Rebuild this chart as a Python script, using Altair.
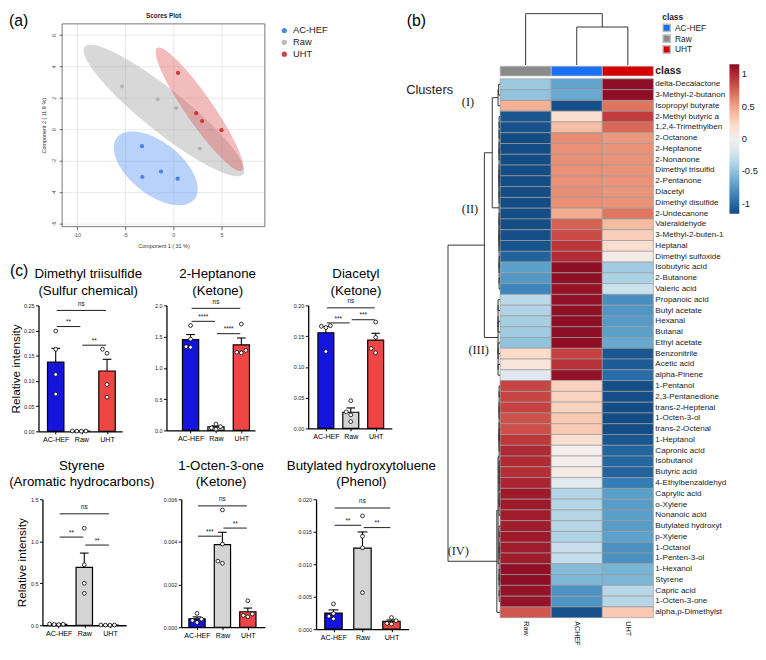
import numpy as np
import pandas as pd
import altair as alt

FONT = "Liberation Sans"
SERIF = "Liberation Serif"

# ---------------- (a) Scores plot ----------------
pca_group = ["AC-HEF"] * 4 + ["Raw"] * 4 + ["UHT"] * 4
pca_comp1 = [-3.23, -3.20, -1.26, 0.47, -5.30, -1.60, 0.31, 2.76, 0.50, 2.38, 2.99, 5.00]
pca_comp2 = [-1.08, -3.04, -2.69, -3.15, 2.73, 1.90, 1.35, -1.23, 3.58, 1.02, 0.52, -0.06]
pca_groups = ["AC-HEF", "Raw", "UHT"]

# ---------------- (b) heatmap (row z-scores) ----------------
hm_compounds = [
    "delta-Decalactone", "3-Methyl-2-butanon", "Isopropyl butyrate", "2-Methyl butyric a",
    "1,2,4-Trimethylben", "2-Octanone", "2-Heptanone", "2-Nonanone", "Dimethyl trisulfid",
    "2-Pentanone", "Diacetyl", "Dimethyl disulfide", "2-Undecanone", "Valeraldehyde",
    "3-Methyl-2-buten-1", "Heptanal", "Dimethyl sulfoxide", "Isobutyric acid", "2-Butanone",
    "Valeric acid", "Propanoic acid", "Butyl acetate", "Hexanal", "Butanal", "Ethyl acetate",
    "Benzonitrile", "Acetic acid", "alpha-Pinene", "1-Pentanol", "2,3-Pentanedione",
    "trans-2-Heptenal", "1-Octen-3-ol", "trans-2-Octenal", "1-Heptanol", "Capronic acid",
    "Isobutanol", "Butyric acid", "4-Ethylbenzaldehyd", "Caprylic acid", "o-Xylene",
    "Nonanoic acid", "Butylated hydroxyt", "p-Xylene", "1-Octanol", "1-Penten-3-ol",
    "1-Hexanol", "Styrene", "Capric acid", "1-Octen-3-one", "alpha,p-Dimethylst",
]
hm_raw = [-0.47, -0.50, 0.45, -1.10, -1.12, -1.15, -1.15, -1.15, -1.15, -1.15,
          -1.15, -1.15, -1.15, -1.15, -1.14, -1.12, -1.03, -0.70, -0.74, -0.86,
          -0.33, -0.38, -0.42, -0.45, -0.50, 0.22, 0.12, -0.14, 0.87, 0.87,
          0.88, 0.82, 0.83, 0.92, 1.00, 0.99, 0.97, 1.02, 1.08, 1.08,
          1.07, 1.07, 1.08, 1.07, 1.07, 1.14, 1.15, 1.12, 1.12, 0.80]
hm_achef = [-0.68, -0.65, -1.14, 0.20, 0.38, 0.60, 0.58, 0.58, 0.58, 0.58,
            0.59, 0.58, 0.47, 0.76, 0.85, 0.93, 0.98, 1.15, 1.14, 1.12,
            1.13, 1.14, 1.15, 1.15, 1.15, 0.88, 0.95, 1.12, 0.27, 0.27,
            0.27, 0.33, 0.32, 0.18, 0.02, 0.02, 0.06, -0.12, -0.37, -0.36,
            -0.36, -0.35, -0.38, -0.28, -0.28, -0.55, -0.57, -0.78, -0.77, -1.13]
hm_uht = [1.15, 1.15, 0.69, 0.90, 0.74, 0.55, 0.57, 0.57, 0.57, 0.57,
          0.56, 0.57, 0.68, 0.39, 0.29, 0.19, 0.05, -0.45, -0.40, -0.26,
          -0.80, -0.76, -0.73, -0.70, -0.65, -1.10, -1.07, -0.98, -1.14, -1.14,
          -1.15, -1.15, -1.15, -1.10, -1.02, -1.01, -1.03, -0.90, -0.71, -0.72,
          -0.71, -0.72, -0.70, -0.79, -0.79, -0.59, -0.58, -0.35, -0.35, 0.33]
hm_columns = ["Raw", "ACHEF", "UHT"]
hm_classes = ["Raw", "AC-HEF", "UHT"]
class_legend = ["AC-HEF", "Raw", "UHT"]
cluster_labels = ["(I)", "(II)", "(III)", "(IV)"]

# ---------------- (c) bar panels (4 replicates per group) ----------------
groups = ["AC-HEF", "Raw", "UHT"]
dmts_achef = [0.199, 0.163, 0.113, 0.074]
dmts_raw = [0.0005, 0.0008, 0.0003, 0.0006]
dmts_uht = [0.163, 0.155, 0.093, 0.068]
hep_achef = [1.678, 1.46, 1.34, 1.33]
hep_raw = [0.02, 0.04, 0.06, 0.10]
hep_uht = [1.70, 1.28, 1.25, 1.24]
dia_achef = [0.167, 0.166, 0.164, 0.125]
dia_raw = [0.045, 0.027, 0.022, 0.011]
dia_uht = [0.173, 0.148, 0.130, 0.123]
sty_achef = [0.012, 0.015, 0.010, 0.008]
sty_raw = [1.155, 0.72, 0.50, 0.38]
sty_uht = [0.002, 0.003, 0.001, 0.002]
oct_achef = [0.00065, 0.00038, 0.00032, 0.00022]
oct_raw = [0.0055, 0.0039, 0.0031, 0.0030]
oct_uht = [0.00124, 0.00062, 0.00055, 0.00049]
bht_achef = [0.0039, 0.0024, 0.0020, 0.0016]
bht_raw = [0.01744, 0.0143, 0.01253, 0.00563]
bht_uht = [0.0018, 0.0013, 0.0009, 0.0008]

dmts_sig = [("AC-HEF", "UHT", 0.240, "ns"), ("AC-HEF", "Raw", 0.208, "**"), ("Raw", "UHT", 0.171, "**")]
hep_sig = [("AC-HEF", "UHT", 1.953, "ns"), ("AC-HEF", "Raw", 1.745, "****"), ("Raw", "UHT", 1.547, "****")]
dia_sig = [("AC-HEF", "UHT", 0.196, "ns"), ("AC-HEF", "Raw", 0.1715, "***"), ("Raw", "UHT", 0.1767, "***")]
sty_sig = [("AC-HEF", "UHT", 1.327, "ns"), ("AC-HEF", "Raw", 1.05, "**"), ("Raw", "UHT", 0.955, "**")]
oct_sig = [("AC-HEF", "UHT", 0.00569, "ns"), ("AC-HEF", "Raw", 0.00427, "***"), ("Raw", "UHT", 0.00465, "**")]
bht_sig = [("AC-HEF", "UHT", 0.01866, "ns"), ("AC-HEF", "Raw", 0.0160, "**"), ("Raw", "UHT", 0.01564, "**")]

BAR_FILL = ["#1414dc", "#d4d4d4", "#ef4545"]
NEG = "datum.value < 0 ? '-' + format(-datum.value, '~g') : format(datum.value, '~g')"
ONE = pd.DataFrame({"a": [0]})


def box(L, T, W, H, R, B):
    """Invisible rectangle that fixes the extent of a panel inside the layout."""
    return alt.Chart(ONE).mark_rect(opacity=0).encode(
        x=alt.value(-L), x2=alt.value(W + R), y=alt.value(-T), y2=alt.value(H + B))


def lead():
    """1-px leading cell so every row of the layout starts at the same x."""
    return box(0, 0, 1, 1, 0, 0).properties(width=1, height=1)


def label(text, x, y, **kw):
    return alt.Chart(pd.DataFrame({"t": [text]})).mark_text(**kw).encode(
        x=alt.value(x), y=alt.value(y), text="t:N")


# ---------------- panel (a) ----------------
def ellipse_band(xs, ys, n=140):
    xs, ys = np.asarray(xs, float), np.asarray(ys, float)
    k = np.sqrt(5.991)  # 95 % region
    cx, cy = xs.mean(), ys.mean()
    S = np.cov(xs, ys)
    sxx, syy, sxy = S[0, 0], S[1, 1], S[0, 1]
    t = np.linspace(0, np.pi, n)
    dx = k * np.sqrt(sxx) * np.cos(t)
    resid = syy - sxy ** 2 / sxx
    half = k * np.sqrt(np.clip(resid * (1 - dx ** 2 / (k ** 2 * sxx)), 0, None))
    mid = cy + sxy / sxx * dx
    return cx + dx, mid + half, mid - half


def pca_chart():
    XD, YD = [-11.5, 9.5], [-6.2, 6.7]
    W, H = 206, 206
    df = pd.DataFrame({"group": pca_group, "c1": pca_comp1, "c2": pca_comp2})
    erows = []
    for g in pca_groups:
        sub = df[df.group == g]
        ex, eu, el = ellipse_band(sub.c1, sub.c2)
        for a, b, c in zip(ex, eu, el):
            erows.append({"group": g, "ex": float(a), "eu": float(b), "el": float(c)})
    edf = pd.DataFrame(erows).sort_values(["group", "ex"])
    xsc = alt.Scale(domain=XD, nice=False, zero=False)
    ysc = alt.Scale(domain=YD, nice=False, zero=False)
    common = dict(grid=True, gridColor="#e4e4e4", gridWidth=0.8, domain=False, tickSize=3,
                  tickColor="#666", labelFontSize=5.5, labelColor="#555", labelExpr=NEG,
                  titleFontSize=5.5, titleFontWeight="normal", titleColor="#333")
    xax = alt.Axis(values=[-10, -5, 0, 5], title="Component 1 ( 31 %)", labelPadding=3,
                   titlePadding=6, **common)
    yax = alt.Axis(values=[-6, -4, -2, 0, 2, 4, 6], title="Component 2 ( 11.9 %)", labelAngle=270,
                   labelAlign="center", labelBaseline="bottom", labelPadding=3, titlePadding=5, **common)

    def X(f):
        return alt.X(f, type="quantitative", scale=xsc, axis=xax)

    def Y(f):
        return alt.Y(f, type="quantitative", scale=ysc, axis=yax)

    layers = [box(54, 11, W, H, 164, 33)]
    for g, col in [("Raw", "#9e9e9e"), ("AC-HEF", "#4d8ef0"), ("UHT", "#e05858")]:
        layers.append(alt.Chart(edf).transform_filter(f"datum.group == '{g}'")
                      .mark_area(color=col, opacity=0.4)
                      .encode(x=X("ex"), y=Y("eu"), y2="el"))
    pts = alt.Chart(df).mark_circle(size=18, opacity=0.9).encode(
        x=X("c1"), y=Y("c2"),
        color=alt.Color("group:N", scale=alt.Scale(domain=pca_groups,
                                                   range=["#3a7be6", "#b0b0b0", "#cc2a2a"]),
                        legend=alt.Legend(orient="none", legendX=221, legendY=2, title=None,
                                          symbolType="circle", symbolSize=28, labelFontSize=9.5,
                                          labelColor="#222", rowPadding=1)))
    frame_df = pd.DataFrame({"fx0": [XD[0]], "fx1": [XD[1]], "fy0": [YD[0]], "fy1": [YD[1]]})
    frame = alt.Chart(frame_df).mark_rect(fillOpacity=0, stroke="#555", strokeWidth=0.8).encode(
        x=X("fx0"), x2="fx1", y=Y("fy0"), y2="fy1")
    layers += [pts, frame,
               label("(a)", -54, -2.5, fontSize=16, align="left", baseline="middle", color="black"),
               label("Scores Plot", W / 2, -7.5, fontSize=6.5, fontWeight="bold", align="center",
                     baseline="middle", color="#222")]
    return alt.layer(*layers).properties(width=W, height=H)


# ---------------- panel (b) ----------------
def balanced(lo, hi, h):
    if lo == hi:
        return lo
    mid = (lo + hi) // 2
    return (balanced(lo, mid, h), balanced(mid + 1, hi, h), h)


def heat_chart():
    n = len(hm_compounds)
    W, H = 218, 603.3
    rows = []
    for i, name in enumerate(hm_compounds):
        for c, arr in enumerate([hm_raw, hm_achef, hm_uht]):
            rows.append({"name": name, "row": i + 1, "col": c, "value": arr[i]})
    cells_df = pd.DataFrame(rows)
    xsc = alt.Scale(domain=[-1.2, 3], nice=False, zero=False)
    ysc = alt.Scale(domain=[-5.1, 50], nice=False, zero=False, reverse=True)
    xax = alt.Axis(values=[0.5, 1.5, 2.5], labelExpr="['Raw','ACHEF','UHT'][floor(datum.value)]",
                   labelAngle=90, labelAlign="left", labelBaseline="middle", labelFontSize=7.4,
                   labelPadding=3, domain=False, ticks=False, grid=False, title=None, labelColor="#222")

    def X(f):
        return alt.X(f, type="quantitative", scale=xsc, axis=xax)

    def Y(f):
        return alt.Y(f, type="quantitative", scale=ysc, axis=None)

    cells = (alt.Chart(cells_df)
             .transform_calculate(x0="datum.col", x1="datum.col + 1", y0="datum.row - 1", y1="datum.row")
             .mark_rect(stroke="#9a9a9a", strokeWidth=0.7)
             .encode(x=X("x0"), x2="x1", y=Y("y0"), y2="y1",
                     fill=alt.Fill("value:Q",
                                   scale=alt.Scale(scheme="redblue", reverse=True, domain=[-1.155, 1.155]),
                                   legend=alt.Legend(orient="none", legendX=295.3, legendY=41,
                                                     direction="vertical", gradientLength=152,
                                                     gradientThickness=10, title=None,
                                                     values=[-1, -0.5, 0, 0.5, 1], labelExpr=NEG,
                                                     labelFontSize=9.5, labelOverlap=False,
                                                     labelOffset=2.5, labelColor="#222"))))
    cls_df = pd.DataFrame({"col": [0, 1, 2], "cls": hm_classes})
    cls = (alt.Chart(cls_df)
           .transform_calculate(x0="datum.col", x1="datum.col + 1", cy0="-1.18", cy1="-0.27")
           .mark_rect(stroke="#bdbdbd", strokeWidth=0.7)
           .encode(x=X("x0"), x2="x1", y=Y("cy0"), y2="cy1",
                   color=alt.Color("cls:N",
                                   scale=alt.Scale(domain=class_legend, range=["#1a6ff2", "#8a8a8a", "#d40000"]),
                                   legend=alt.Legend(orient="none", legendX=227, legendY=-11, title="class",
                                                     titleFontSize=8.5, titleFontWeight="bold",
                                                     labelFontSize=8.5, symbolType="square",
                                                     symbolSize=55, rowPadding=0, clipHeight=11,
                                                     titlePadding=1, labelColor="#222", titleColor="#222"))))
    lab_df = pd.DataFrame({"name": hm_compounds, "row": list(range(1, n + 1))})
    labels = (alt.Chart(lab_df).transform_calculate(yc="datum.row - 0.5", lx="3")
              .mark_text(align="left", baseline="middle", dx=2, fontSize=8.2, color="#222")
              .encode(x=X("lx"), y=Y("yc"), text="name:N"))

    # row dendrogram
    row_tree = (((((1, 2, 0.03), 3, 0.04), balanced(4, 20, 0.02), 0.154), balanced(21, 28, 0.04), 0.308),
                ((balanced(29, 41, 0.02), balanced(42, 49, 0.02), 0.04), 50, 0.064),
                1.02)
    segs = []

    def walk(node):
        if isinstance(node, int):
            return node - 0.5, 0.0
        l, r, h = node
        pl, hl = walk(l)
        pr, hr = walk(r)
        segs.append((-h, pl, -h, pr))
        segs.append((-h, pl, -hl, pl))
        segs.append((-h, pr, -hr, pr))
        return (pl + pr) / 2, h

    walk(row_tree)
    # column dendrogram
    base = -1.28
    col_tree = (0, (1, 2, 3.53), 4.77)

    def walkc(node):
        if isinstance(node, int):
            return node + 0.5, 0.0
        l, r, h = node
        pl, hl = walkc(l)
        pr, hr = walkc(r)
        segs.append((pl, base - h, pr, base - h))
        segs.append((pl, base - h, pl, base - hl))
        segs.append((pr, base - h, pr, base - hr))
        return (pl + pr) / 2, h

    walkc(col_tree)
    seg_df = pd.DataFrame(segs, columns=["sx1", "sy1", "sx2", "sy2"]).astype(float)
    dend = alt.Chart(seg_df).mark_rule(color="#333", strokeWidth=1).encode(
        x=X("sx1"), x2="sx2", y=Y("sy1"), y2="sy2")

    ann_df = pd.DataFrame({"t": cluster_labels, "ax": [-0.63, -0.59, -0.42, -0.82],
                           "ay": [2.13, 12.1, 25.2, 43.8]})
    clus = alt.Chart(ann_df).mark_text(font=SERIF, fontSize=12.5, color="#222").encode(
        x=X("ax"), y=Y("ay"), text="t:N")
    misc1 = alt.Chart(pd.DataFrame({"t": ["Clusters"], "ax": [-1.38], "ay": [1.0]})).mark_text(
        fontSize=13, color="#222").encode(x=X("ax"), y=Y("ay"), text="t:N")
    misc2 = alt.Chart(pd.DataFrame({"t": ["(b)"], "ax": [-1.64], "ay": [-5.35]})).mark_text(
        fontSize=16, color="black").encode(x=X("ax"), y=Y("ay"), text="t:N")
    clsname = alt.Chart(pd.DataFrame({"t": ["class"], "ax": [3.0], "ay": [-0.76]})).mark_text(
        fontSize=10.5, fontWeight="bold", align="left", baseline="middle", dx=2, color="#222").encode(
        x=X("ax"), y=Y("ay"), text="t:N")
    return alt.layer(box(30, 11, W, H, 106.3, 27.7), cells, cls, dend, labels, clus, misc1, misc2,
                     clsname).properties(width=W, height=H)


# ---------------- panel (c) ----------------
def swarm(vals, yppu, xppu, d=4.6):
    order = np.argsort(vals)
    placed, offs = [], [0.0] * len(vals)
    cands = [0, -d, d, -2 * d, 2 * d, -3 * d, 3 * d]
    for i in order:
        yp = vals[i] * yppu
        chosen = cands[-1]
        for c in cands:
            if all((c - px) ** 2 + (yp - py) ** 2 >= 0.95 * d * d for px, py in placed):
                chosen = c
                break
        placed.append((chosen, yp))
        offs[i] = chosen / xppu
    return offs


def bar_panel(title, reps, sig, ticks, fmt, ext, xdom, title_y, half=0.32, title_dx=0,
              ytitle=None, ytitle_x=-24, panel_label=None):
    L, T, width, height, R, B = ext
    ymax = ticks[-1]
    xppu = width / (xdom[1] - xdom[0])
    yppu = height / ymax
    rows = []
    for gi, (g, vals) in enumerate(zip(groups, reps)):
        offs = swarm(vals, yppu, xppu)
        for v, o in zip(vals, offs):
            rows.append({"g": g, "gi": gi, "v": v, "gx": gi + o})
    pts = pd.DataFrame(rows)
    srows = []
    for a, b, yv, lab in sig:
        ia, ib = groups.index(a), groups.index(b)
        x1, x2 = ia + 0.04, ib - 0.04
        srows.append({"x1": x1, "x2": x2, "xm": (x1 + x2) / 2, "y": yv, "lab": lab})
    sdf = pd.DataFrame(srows)

    xsc = alt.Scale(domain=xdom, nice=False, zero=False)
    ysc = alt.Scale(domain=[0, ymax], nice=False, zero=False)
    xax = alt.Axis(values=[0, 1, 2], labelExpr="['AC-HEF','Raw','UHT'][datum.value]", title=None,
                   labelFontSize=7.2, labelColor="black", tickSize=2.5, tickColor="black",
                   domainColor="black", domainWidth=1.3, grid=False, labelPadding=2, labelAngle=0)
    yopts = dict(values=ticks, format=fmt, grid=False, labelFontSize=5.5, labelColor="#222",
                 labelPadding=1.5, tickSize=3, tickColor="black", tickWidth=1, domainColor="black",
                 domainWidth=1.3)
    if ytitle:
        yax = alt.Axis(title=ytitle, titleFontSize=12, titleFontWeight="normal", titleColor="black",
                       titleX=ytitle_x, titleY=height / 2, titleAngle=270, titleAlign="center",
                       titleBaseline="middle", **yopts)
    else:
        yax = alt.Axis(title=None, **yopts)

    def X(f):
        return alt.X(f, type="quantitative", scale=xsc, axis=xax)

    def Y(f):
        return alt.Y(f, type="quantitative", scale=ysc, axis=yax)

    base = alt.Chart(pts)
    agg = base.transform_aggregate(m="mean(v)", se="stderr(v)", groupby=["g", "gi"]).transform_calculate(
        up="datum.m + datum.se", xa=f"datum.gi - {half}", xb=f"datum.gi + {half}",
        ca="datum.gi - 0.17", cb="datum.gi + 0.17", zero="0")
    bars = agg.mark_rect(stroke="black", strokeWidth=1.2).encode(
        x=X("xa"), x2="xb", y=Y("m"), y2="zero",
        fill=alt.Fill("g:N", scale=alt.Scale(domain=groups, range=BAR_FILL), legend=None))
    errs = agg.mark_rule(color="black", strokeWidth=1.1).encode(x=X("gi"), y=Y("m"), y2="up")
    caps = agg.mark_rule(color="black", strokeWidth=1.1).encode(x=X("ca"), x2="cb", y=Y("up"))
    points = base.mark_point(filled=True, fill="white", stroke="black", strokeWidth=0.8,
                             size=15, opacity=1).encode(x=X("gx"), y=Y("v"))
    sb = alt.Chart(sdf)
    lines = sb.mark_rule(color="black", strokeWidth=0.9).encode(x=X("x1"), x2="x2", y=Y("y"))
    stars = sb.transform_filter("datum.lab != 'ns'").mark_text(
        fontSize=6.5, baseline="bottom", dy=-1.4, color="#111").encode(x=X("xm"), y=Y("y"), text="lab:N")
    nss = sb.transform_filter("datum.lab == 'ns'").mark_text(
        fontSize=6.5, baseline="bottom", dy=-3.6, color="#111").encode(x=X("xm"), y=Y("y"), text="lab:N")
    layers = [box(L, T, width, height, R, B), bars, errs, caps, points, lines, stars, nss]
    for line, ty in zip(title, title_y):
        layers.append(label(line, width / 2 + title_dx, ty, fontSize=13.5, align="center",
                            baseline="middle", color="black"))
    if panel_label:
        layers.append(label(panel_label, -L, -35, fontSize=16, align="left", baseline="middle",
                            color="black"))
    return alt.layer(*layers).properties(width=width, height=height)


TY1 = (-32, -14.5)
TY2 = (-33.5, -17.5)
# extents: (left, top, width, height, right, bottom) in pixels
b1 = bar_panel(["Dimethyl triisulfide", "(Sulfur chemical)"], [dmts_achef, dmts_raw, dmts_uht], dmts_sig,
               [0, 0.05, 0.10, 0.15, 0.20, 0.25], ".2f", (29, 47, 85, 128, 25, 23), [-0.67, 2.59], TY1,
               title_dx=8, ytitle="Relative intensity", ytitle_x=-23, panel_label="(c)")
b2 = bar_panel(["2-Heptanone", "(Ketone)"], [hep_achef, hep_raw, hep_uht], hep_sig,
               [0, 0.5, 1.0, 1.5, 2.0], ".1f", (20, 47, 90, 127, 20, 24), [-0.95, 2.54], TY1,
               title_dx=7)
b3 = bar_panel(["Diacetyl", "(Ketone)"], [dia_achef, dia_raw, dia_uht], dia_sig,
               [0, 0.05, 0.10, 0.15, 0.20], ".2f", (34, 47, 85, 125, 36, 26), [-0.71, 2.65], TY1,
               title_dx=6)
b4 = bar_panel(["Styrene", "(Aromatic hydrocarbons)"], [sty_achef, sty_raw, sty_uht], sty_sig,
               [0, 0.5, 1.0, 1.5], ".1f", (27, 46, 85, 128, 32, 20), [-0.63, 2.63], TY2,
               title_dx=-2.5, ytitle="Relative intensity", ytitle_x=-21)
b5 = bar_panel(["1-Octen-3-one", "(Ketone)"], [oct_achef, oct_raw, oct_uht], oct_sig,
               [0, 0.002, 0.004, 0.006], ".3f", (24, 46, 85, 130, 13, 18), [-0.62, 2.67], TY2,
               title_dx=-2)
b6 = bar_panel(["Butylated hydroxytoluene", "(Phenol)"], [bht_achef, bht_raw, bht_uht], bht_sig,
               [0, 0.005, 0.010, 0.015, 0.020], ".3f", (39, 46, 94, 132, 25, 16), [-0.6, 2.59], TY2,
               half=0.30, title_dx=-1)

RES = dict(color="independent", fill="independent")
pca_row = alt.hconcat(lead(), pca_chart(), spacing=0).resolve_scale(**RES)
row1 = alt.hconcat(lead(), b1, b2, b3, spacing=0).resolve_scale(**RES)
row2 = alt.hconcat(lead(), b4, b5, b6, spacing=0).resolve_scale(**RES)
left = alt.vconcat(pca_row, row1, row2, spacing=0).resolve_scale(**RES)
heat = heat_chart()

chart = (alt.hconcat(left, heat, spacing=-31.3)
         .resolve_scale(**RES)
         .properties(padding=0)
         .configure(font=FONT)
         .configure_view(strokeWidth=0))

chart.save("out.html", embed_options={"renderer": "svg", "actions": False})
